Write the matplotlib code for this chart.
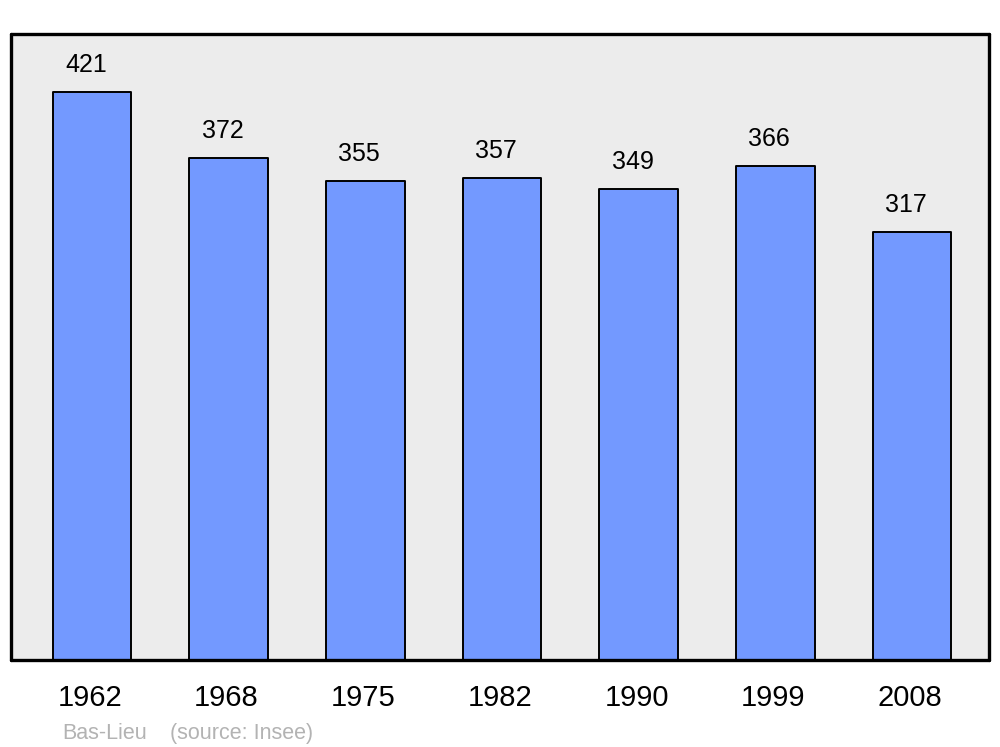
import matplotlib
matplotlib.use("Agg")
import matplotlib.pyplot as plt
import matplotlib.transforms as mtransforms

plt.rcParams['font.family'] = ['Liberation Sans', 'DejaVu Sans']

# Population data
years = ['1962', '1968', '1975', '1982', '1990', '1999', '2008']
population = [421, 372, 355, 357, 349, 366, 317]

fig = plt.figure(figsize=(10, 7.47), dpi=100)
ax = fig.add_axes([0.011, 0.1165, 0.978, 0.838])
ax.set_facecolor('#ececec')

x = range(len(years))
bars = ax.bar(x, population, width=0.575, color='#7399ff',
              edgecolor='black', linewidth=1.4, joinstyle='round')

for xi, v in zip(x, population):
    ax.annotate(str(v), (xi, v), xytext=(-6, 15), textcoords='offset pixels',
                ha='center', va='bottom', fontsize=18)

ax.set_xlim(-0.592, 6.563)
ax.set_ylim(0, 464)
ax.set_yticks([])
ax.set_xticks(list(x))
ax.set_xticklabels(years, fontsize=21)
ax.tick_params(axis='x', length=0, pad=17)
shift = mtransforms.ScaledTranslation(-2 / 100, 0, fig.dpi_scale_trans)
for lbl in ax.get_xticklabels():
    lbl.set_transform(lbl.get_transform() + shift)
for s in ax.spines.values():
    s.set_linewidth(2.4)
    s.set_capstyle('round')
    s.set_joinstyle('round')

fig.text(0.062, 0.011, 'Bas-Lieu', color='#b3b3b3', fontsize=15.5)
fig.text(0.170, 0.011, '(source: Insee)', color='#b3b3b3', fontsize=15.5)

fig.savefig('out.png', dpi=100, facecolor='white')
